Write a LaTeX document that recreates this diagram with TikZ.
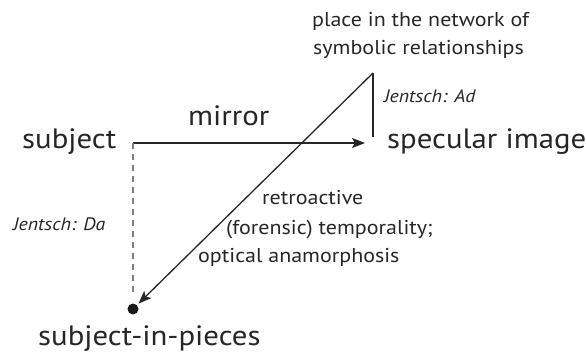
\documentclass[tikz,border=0pt]{standalone}
\usepackage{fontspec}
\setmainfont{PT Sans}[FakeStretch=1.1]
\usetikzlibrary{arrows.meta}
\definecolor{txt}{HTML}{262626}
\definecolor{dashc}{HTML}{808080}
\tikzset{
  big/.style={anchor=base west, inner sep=0pt, text=txt, font=\fontsize{28}{31}\selectfont},
  mid/.style={anchor=base west, inner sep=0pt, text=txt, font=\fontsize{20}{23}\selectfont},
  ital/.style={anchor=base west, inner sep=0pt, text=txt, font=\fontsize{18}{21}\selectfont\itshape},
  conn/.style={line width=1.3pt, draw=black!85},
  arr/.style={conn, -{Stealth[length=13pt,width=10pt,inset=3pt]}},
  dsh/.style={line width=1.2pt, draw=dashc, dash pattern=on 6pt off 5pt},
  dotnode/.style={circle, fill=black!90, inner sep=0pt, minimum size=11pt}
}
\begin{document}
\begin{tikzpicture}[x=1pt,y=-1pt]
\useasboundingbox (0,0) rectangle (586,355);
% anchors of the geometry
\coordinate (subj) at (133,143);
\coordinate (specend) at (365,143);
\coordinate (apex) at (373,73);
\coordinate (vbot) at (373,137);
\node[dotnode] (pieces) at (133,309) {};
% connectors
\draw[arr] (subj) -- (specend);
\draw[conn] (apex) -- (vbot);
\draw[arr, shorten >=2pt] (apex) -- (pieces);
\draw[dsh] (subj) -- ([yshift=9pt]pieces.north);
% labels
\node[big] (lsubj) at (22,149) {subject};
\node[big] (lmirror) at (188,126) {mirror};
\node[big] (lspec) at (387,149) {specular image};
\node[big] (lpieces) at (38,345) {subject-in-pieces};
\node[mid] (lplace1) at (312,27) {place in the network of};
\node[mid] (lplace2) at (313,55) {symbolic relationships};
\node[ital] (lad) at (384,103) {Jentsch: Ad};
\node[ital] (lda) at (13,231) {Jentsch: Da};
\node[mid] (lretro) at (262,205) {retroactive};
\node[mid] (lfor) at (226,235) {(forensic) temporality;};
\node[mid] (lopt) at (198,263) {optical anamorphosis};
\end{tikzpicture}
\end{document}
